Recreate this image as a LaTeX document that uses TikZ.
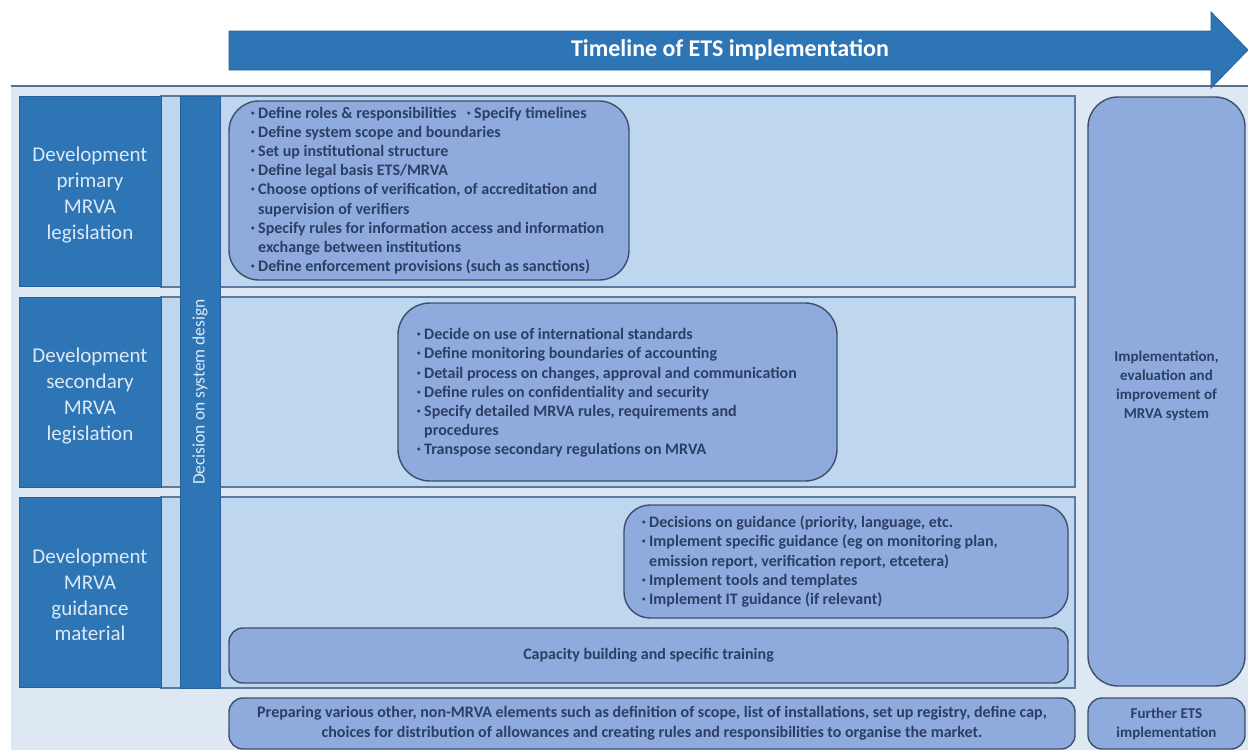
\documentclass[tikz,border=0pt]{standalone}
\usepackage{fontspec}
\setmainfont{Carlito}
\usetikzlibrary{fit}

\definecolor{mrvaBlue}{HTML}{2E75B6}
\definecolor{mrvaBlueEdge}{HTML}{2A6099}
\definecolor{bandFill}{HTML}{DEE8F3}
\definecolor{bandEdge}{HTML}{55708F}
\definecolor{laneFill}{HTML}{BED6EE}
\definecolor{laneEdge}{HTML}{5A7A9E}
\definecolor{cardFill}{HTML}{8FAADC}
\definecolor{cardEdge}{HTML}{3E4F6B}
\definecolor{cardInk}{HTML}{2B3F66}
\definecolor{headInk}{HTML}{DCE9F6}

% small raised bullet with a fixed hanging width
\newcommand\bul{\makebox[7pt][l]{\raisebox{0.38ex}{\fontsize{7}{7}\selectfont •}}}
\newcommand\hang{\hspace*{7pt}}

\tikzset{
  lane/.style={draw=laneEdge, fill=laneFill, line width=1.2pt, inner sep=0pt},
  header/.style={draw=mrvaBlueEdge, fill=mrvaBlue, line width=0.6pt, inner sep=0pt},
  headtext/.style={text=headInk, align=center, font=\fontsize{21}{25.7}\selectfont},
  card/.style={draw=cardEdge, fill=cardFill, line width=1.4pt, inner sep=0pt},
  cardtext/.style={text=cardInk, align=left, inner sep=0pt, font=\fontsize{16}{19.2}\selectfont\bfseries},
  cardcentre/.style={text=cardInk, align=center, inner sep=0pt, font=\fontsize{16}{19.2}\selectfont\bfseries},
}

\begin{document}
\begin{tikzpicture}[x=1pt,y=-1pt]
\useasboundingbox (0,0) rectangle (1248,750);

% pale background band with its top rule
\fill[bandFill] (11,86) rectangle (1248,750);
\draw[bandEdge, line width=2pt] (11,86) -- (1248,86);

% timeline arrow
\draw[fill=mrvaBlue, draw=mrvaBlueEdge, line width=0.8pt, line join=miter]
  (229,31) -- (1211,31) -- (1211,12) -- (1248,50) -- (1211,88) -- (1211,70) -- (229,70) -- cycle;
\node[text=white, font=\fontsize{24}{28}\selectfont\bfseries] (timeline) at (730,50) {Timeline of ETS implementation};

% three lanes
\node[lane, fit={(161,96) (1075,287)}] (laneA) {};
\node[lane, fit={(161,297) (1075,487)}] (laneB) {};
\node[lane, fit={(161,497) (1075,688)}] (laneC) {};

% lane headers
\node[header, fit={(19,96) (161,286)}] (hdrA) {};
\node[header, fit={(19,297) (161,487)}] (hdrB) {};
\node[header, fit={(19,497) (161,687)}] (hdrC) {};
\node[headtext] (hdrAtext) at (90,195) {Development\\primary\\MRVA\\legislation};
\node[headtext] (hdrBtext) at (90,396) {Development\\secondary\\MRVA\\legislation};
\node[headtext] (hdrCtext) at (90,595) {Development\\MRVA\\guidance\\material};

% vertical decision bar
\node[header, fit={(180,96) (220,688)}] (decision) {};
\node[rotate=90, text=headInk, font=\fontsize{17.5}{20}\selectfont] (decisiontext) at (200,392) {Decision on system design};

% primary legislation tasks
\node[card, rounded corners=30pt, fit={(229,101) (629,280)}] (cardA) {};
\node[cardtext, anchor=west] (listA) at (251,190.5) {%
  \makebox[216pt][l]{\bul Define roles \& responsibilities}\bul Specify timelines\\
  \bul Define system scope and boundaries\\
  \bul Set up institutional structure\\
  \bul Define legal basis ETS/MRVA\\
  \bul Choose options of verification, of accreditation and\\
  \hang supervision of verifiers\\
  \bul Specify rules for information access and information\\
  \hang exchange between institutions\\
  \bul Define enforcement provisions (such as sanctions)};

% secondary legislation tasks
\node[card, rounded corners=32pt, fit={(398,303) (837,481)}] (cardB) {};
\node[cardtext, anchor=west] (listB) at (417,393) {%
  \bul Decide on use of international standards\\
  \bul Define monitoring boundaries of accounting\\
  \bul Detail process on changes, approval and communication\\
  \bul Define rules on confidentiality and security\\
  \bul Specify detailed MRVA rules, requirements and\\
  \hang procedures\\
  \bul Transpose secondary regulations on MRVA};

% guidance material tasks
\node[card, rounded corners=26pt, fit={(624,505) (1068,618)}] (cardC) {};
\node[cardtext, anchor=west] (listC) at (642,561.5) {%
  \bul Decisions on guidance (priority, language, etc.\\
  \bul Implement specific guidance (eg on monitoring plan,\\
  \hang emission report, verification report, etcetera)\\
  \bul Implement tools and templates\\
  \bul Implement IT guidance (if relevant)};

\node[card, rounded corners=14pt, fit={(229,628) (1068,683)}] (capacity) {};
\node[cardcentre] (capacitytext) at (capacity.center) {Capacity building and specific training};

% right-hand column
\node[card, rounded corners=30pt, fit={(1088,97) (1245,686)}] (implement) {};
\node[cardcentre, font=\fontsize{15}{19}\selectfont\bfseries] (implementtext) at (1166.5,386) {Implementation,\\evaluation and\\improvement of\\MRVA system};

% bottom row
\node[card, rounded corners=14pt, fit={(229,698) (1075,749)}] (other) {};
\node[cardcentre, font=\fontsize{16}{20}\selectfont\bfseries] (othertext) at (other.center) {Preparing various other, non-MRVA elements such as definition of scope, list of installations, set up registry, define cap,\\choices for distribution of allowances and creating rules and responsibilities to organise the market.};

\node[card, rounded corners=14pt, fit={(1088,698) (1245,749)}] (further) {};
\node[cardcentre, font=\fontsize{15}{19}\selectfont\bfseries] (furthertext) at (further.center) {Further ETS\\implementation};

\end{tikzpicture}
\end{document}
